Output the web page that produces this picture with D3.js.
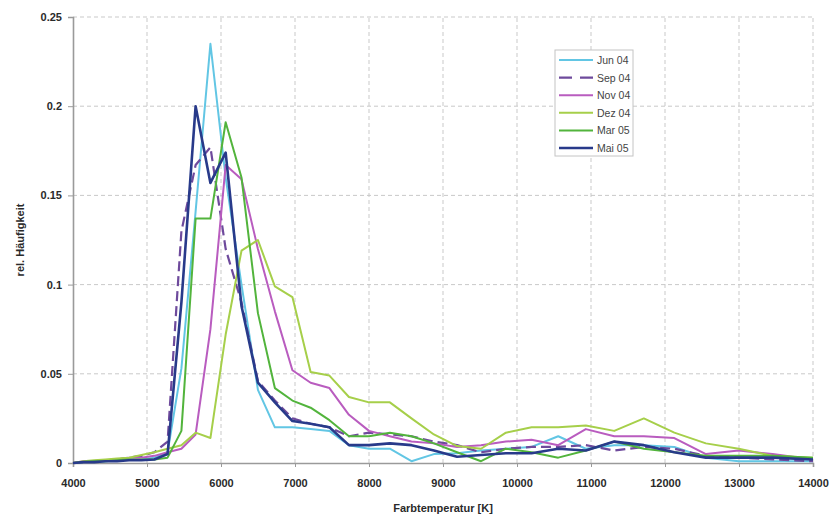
<!DOCTYPE html>
<html>
<head>
<meta charset="utf-8">
<script src="https://cdn.jsdelivr.net/npm/d3@7"></script>
<style>
  html, body { margin: 0; padding: 0; background: #fff; }
  svg { display: block; font-family: Arial, "Liberation Sans", sans-serif; }
</style>
</head>
<body>
<svg id="chart" width="840" height="520"></svg>
<script>
// Colour temperature bins (K), log-spaced
const temps = [4000, 4141, 4287, 4438, 4595, 4757, 4925, 5099, 5278, 5465, 5657, 5857,
  6063, 6277, 6499, 6728, 6965, 7211, 7465, 7729, 8000, 8282, 8574, 8877, 9190, 9514,
  9850, 10197, 10557, 10930, 11314, 11714, 12126, 12553, 12996, 13454, 14000];

const seriesNames = ["Jun 04", "Sep 04", "Nov 04", "Dez 04", "Mar 05", "Mai 05"];

const jun04 = [0, 0.0005, 0.001, 0.001, 0.0015, 0.002, 0.002, 0.003, 0.006, 0.053, 0.141, 0.235,
  0.16, 0.10, 0.041, 0.020, 0.020, 0.019, 0.018, 0.010, 0.008, 0.008, 0.001, 0.005, 0.0055, 0.007,
  0.008, 0.009, 0.015, 0.008, 0.010, 0.010, 0.009, 0.003, 0.001, 0.001, 0.001];
const sep04 = [0, 0.0005, 0.001, 0.0015, 0.002, 0.003, 0.004, 0.006, 0.012, 0.13, 0.167, 0.177,
  0.12, 0.09, 0.046, 0.035, 0.025, 0.022, 0.020, 0.015, 0.017, 0.016, 0.015, 0.012, 0.010, 0.006,
  0.008, 0.009, 0.009, 0.010, 0.007, 0.009, 0.008, 0.004, 0.003, 0.002, 0.001];
const nov04 = [0, 0.001, 0.001, 0.0015, 0.002, 0.003, 0.003, 0.004, 0.006, 0.008, 0.016, 0.075,
  0.167, 0.159, 0.12, 0.085, 0.052, 0.045, 0.042, 0.027, 0.018, 0.015, 0.012, 0.011, 0.009, 0.010,
  0.012, 0.013, 0.010, 0.019, 0.015, 0.015, 0.014, 0.005, 0.007, 0.005, 0.002];
const dez04 = [0, 0.001, 0.0015, 0.002, 0.0025, 0.003, 0.0045, 0.006, 0.008, 0.010, 0.017, 0.014,
  0.072, 0.119, 0.125, 0.099, 0.093, 0.051, 0.049, 0.037, 0.034, 0.034, 0.025, 0.016, 0.0095, 0.008,
  0.017, 0.020, 0.020, 0.021, 0.018, 0.025, 0.017, 0.011, 0.008, 0.004, 0.003];
const mar05 = [0, 0.0005, 0.001, 0.001, 0.0015, 0.002, 0.002, 0.002, 0.003, 0.018, 0.137, 0.137,
  0.191, 0.16, 0.084, 0.042, 0.035, 0.031, 0.024, 0.015, 0.015, 0.017, 0.015, 0.011, 0.006, 0.001,
  0.008, 0.006, 0.003, 0.007, 0.012, 0.008, 0.006, 0.004, 0.004, 0.004, 0.003];
const mai05 = [0, 0.0005, 0.0005, 0.001, 0.001, 0.0015, 0.0015, 0.002, 0.005, 0.09, 0.200, 0.157,
  0.174, 0.088, 0.045, 0.034, 0.0235, 0.022, 0.020, 0.010, 0.010, 0.011, 0.010, 0.007, 0.0035, 0.0045,
  0.0055, 0.0055, 0.008, 0.007, 0.012, 0.010, 0.006, 0.003, 0.003, 0.003, 0.002];

const xTicks = [4000, 5000, 6000, 7000, 8000, 9000, 10000, 11000, 12000, 13000, 14000];
const yTicks = [0, 0.05, 0.1, 0.15, 0.2, 0.25];

const seriesValues = [jun04, sep04, nov04, dez04, mar05, mai05];
const colors = ["#62c6e4", "#6e4a9c", "#b95cbf", "#a6cf4a", "#52b43c", "#283a8a"];
const widths = [2, 2.2, 2, 2, 2, 2.6];
const dashes = [null, "10,5", null, null, null, null];

const margin = { top: 17, right: 27, bottom: 57, left: 73 };
const W = 840, H = 520;
const svg = d3.select("#chart");

const x = d3.scaleLinear().domain([4000, 14000]).range([margin.left, W - margin.right]);
const y = d3.scaleLinear().domain([0, 0.25]).range([H - margin.bottom, margin.top]);

// grid
const grid = svg.append("g").attr("stroke", "#c9c9c9").attr("stroke-dasharray", "4,3").attr("stroke-width", 1);
grid.selectAll("line.v").data(xTicks.slice(1)).join("line")
  .attr("x1", d => x(d)).attr("x2", d => x(d))
  .attr("y1", y(0)).attr("y2", y(0.25));
grid.selectAll("line.h").data(yTicks.slice(1)).join("line")
  .attr("x1", x(4000)).attr("x2", x(14000))
  .attr("y1", d => y(d)).attr("y2", d => y(d));

// axes
const xAxis = svg.append("g").attr("transform", `translate(0,${y(0)})`)
  .call(d3.axisBottom(x).tickValues(xTicks).tickFormat(d3.format("d")).tickSize(4).tickPadding(12));
const yAxis = svg.append("g").attr("transform", `translate(${x(4000)},0)`)
  .call(d3.axisLeft(y).tickValues(yTicks).tickFormat(d => d === 0 ? "0" : String(+d.toFixed(2))).tickSize(5).tickPadding(6));
[xAxis, yAxis].forEach(a => {
  a.select(".domain").attr("stroke", "#9a9a9a").attr("stroke-width", 1.6);
  a.selectAll(".tick line").attr("stroke", "#9a9a9a");
  a.selectAll(".tick text").attr("fill", "#2a2a2a").attr("font-size", 11).attr("font-weight", "bold")
    .attr("font-family", "Arial, 'Liberation Sans', sans-serif");
});

// lines
const line = d3.line().x((d, i) => x(temps[i])).y(d => y(d));
const lines = svg.append("g").attr("fill", "none").attr("stroke-linejoin", "round");
seriesValues.forEach((vals, k) => {
  lines.append("path")
    .attr("d", line(vals))
    .attr("stroke", colors[k])
    .attr("stroke-width", widths[k])
    .attr("stroke-dasharray", dashes[k]);
});

// axis titles
svg.append("text").attr("x", 443).attr("y", 512).attr("text-anchor", "middle")
  .attr("font-size", 11).attr("font-weight", "bold").attr("fill", "#2a2a2a")
  .text("Farbtemperatur [K]");
svg.append("text").attr("transform", "translate(24,240) rotate(-90)").attr("text-anchor", "middle")
  .attr("font-size", 11).attr("font-weight", "bold").attr("fill", "#2a2a2a")
  .text("rel. Häufigkeit");

// legend
const lg = svg.append("g").attr("transform", "translate(555,50)");
lg.append("rect").attr("width", 78).attr("height", 106).attr("fill", "#fff")
  .attr("stroke", "#c4c4c4").attr("stroke-width", 1);
seriesNames.forEach((name, k) => {
  const yy = 10 + k * 17.6;
  lg.append("line").attr("x1", 4).attr("x2", 38).attr("y1", yy).attr("y2", yy)
    .attr("stroke", colors[k]).attr("stroke-width", widths[k])
    .attr("stroke-dasharray", k === 1 ? "13,8" : null);
  lg.append("text").attr("x", 42).attr("y", yy + 4).attr("font-size", 10.5)
    .attr("fill", "#444").text(name);
});
</script>
</body>
</html>
